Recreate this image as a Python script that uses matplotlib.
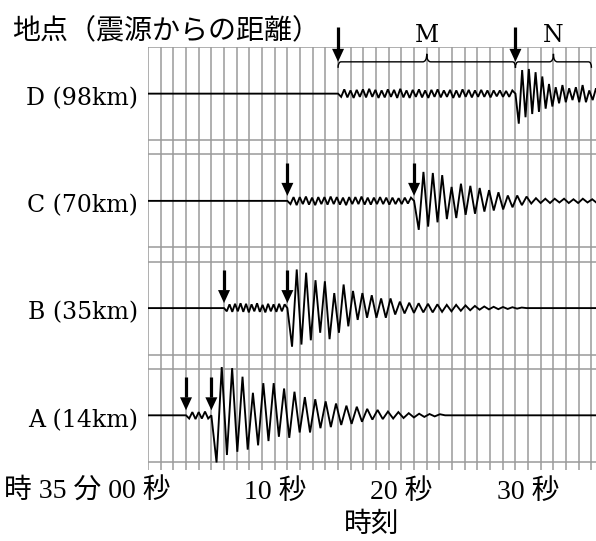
import numpy as np
import matplotlib
matplotlib.use("Agg")
import matplotlib.pyplot as plt
from matplotlib.path import Path
from matplotlib.patches import PathPatch
from matplotlib.transforms import offset_copy

# stations, bottom (A) to top (D)
stations = ["A", "B", "C", "D"]
distances_km = [14, 35, 70, 98]
p_arrival = [3, 6, 11, 15]     # seconds after 35 min 00 s
s_arrival = [5, 11, 21, 29]

# small P-phase wiggles, spread between the two arrivals
p_wiggle_a = [-0.03, 0.03, -0.035, 0.03, -0.03, 0.035, -0.03]
p_wiggle_b = [-0.03, 0.035, -0.035, 0.04, -0.03, 0.045, -0.035, 0.04, -0.04, 0.035, -0.03,
              0.045, -0.035, 0.03, -0.04, 0.04, -0.03, 0.035, -0.035, 0.04, -0.03, 0.035]
p_wiggle_c = [-0.03, 0.035, -0.04, 0.035, -0.03, 0.04, -0.035, 0.03,
              -0.04, 0.035, -0.03, 0.035, -0.035, 0.04, -0.03, 0.035,
              -0.035, 0.03, -0.04, 0.035, -0.03, 0.035, -0.03, 0.04,
              -0.035, 0.03, -0.035, 0.03, -0.03, 0.035, -0.03, 0.03,
              -0.035, 0.03, -0.03, 0.025, -0.03, 0.03, -0.025, 0.03]
p_wiggle_d = [-0.03, 0.04, -0.035, 0.03, -0.04, 0.035, -0.03, 0.04,
              -0.035, 0.045, -0.03, 0.035, -0.04, 0.03, -0.035, 0.04,
              -0.03, 0.035, -0.04, 0.045, -0.035, 0.03, -0.04, 0.035,
              -0.03, 0.04, -0.035, 0.03, -0.04, 0.035, -0.03, 0.04,
              -0.035, 0.03, -0.03, 0.035, -0.04, 0.03, -0.035, 0.04,
              -0.03, 0.035, -0.035, 0.03, -0.03, 0.035, -0.03, 0.03,
              -0.035, 0.03, -0.025, 0.03, -0.03, 0.025, -0.03, 0.03]

# S-phase swings (peaks and troughs), one every half period
s_half_period = [0.41, 0.37, 0.37, 0.265]
s_wiggle_a = [-0.44, 0.45, -0.37, 0.44, -0.34, 0.36, -0.32, 0.21, -0.28, 0.30, -0.24, 0.30,
              -0.20, 0.25, -0.21, 0.22, -0.16, 0.17, -0.16, 0.15, -0.12, 0.13, -0.11, 0.11,
              -0.09, 0.09, -0.08, 0.08, -0.06, 0.06, -0.04, 0.05, -0.035, 0.035, -0.03, 0.03,
              -0.025, 0.02, -0.02, 0.015, -0.015, 0.012, -0.01, 0.01]
s_wiggle_b = [-0.36, 0.36, -0.34, 0.33, -0.30, 0.26, -0.23, 0.25, -0.29, 0.14, -0.23, 0.22,
              -0.17, 0.16, -0.11, 0.14, -0.09, 0.12, -0.09, 0.09, -0.09, 0.09, -0.06, 0.06,
              -0.05, 0.05, -0.045, 0.045, -0.04, 0.04, -0.04, 0.035, -0.035, 0.03, -0.03, 0.03,
              -0.025, 0.025, -0.02, 0.02, -0.015, 0.015, -0.012, 0.012, -0.01, 0.01,
              -0.008, 0.008, -0.005, 0.005]
s_wiggle_c = [-0.27, 0.27, -0.24, 0.26, -0.20, 0.24, -0.17, 0.13, -0.16, 0.16, -0.13, 0.14,
              -0.12, 0.12, -0.10, 0.10, -0.09, 0.08, -0.08, 0.05, -0.06, 0.05, -0.04, 0.04,
              -0.025, 0.025, -0.02, 0.02, -0.02, 0.02, -0.015, 0.02, -0.02, 0.015, -0.02, 0.02,
              -0.015, 0.015, -0.02, 0.02]
s_wiggle_d = [-0.28, 0.22, -0.22, 0.23, -0.19, 0.20, -0.17, 0.16, -0.14, 0.09, -0.12, 0.06,
              -0.09, 0.08, -0.08, 0.05, -0.06, 0.06, -0.08, 0.08, -0.08, 0.03, -0.06, 0.05,
              -0.04, 0.04]

p_wiggles = [p_wiggle_a, p_wiggle_b, p_wiggle_c, p_wiggle_d]
s_wiggles = [s_wiggle_a, s_wiggle_b, s_wiggle_c, s_wiggle_d]

# braces over station D
phase_labels = ["M", "N"]
n_phase_end = 35

tick_secs = [0, 10, 20, 30]
tick_labels = ["時 35 分 00 秒", "10 秒", "20 秒", "30 秒"]

SERIF = ["DejaVu Serif", "Noto Sans CJK JP"]
TICKFONT = ["Liberation Serif", "Noto Sans CJK JP"]
CJK = ["Noto Sans CJK JP", "DejaVu Sans"]
plt.rcParams["font.family"] = TICKFONT

GRID = "#9a9a9a"
XMAX = 448 / 12.67
YMIN, YMAX = -0.51, 3.435
PX_X = XMAX / 448          # seconds per pixel
PX_Y = (YMAX - YMIN) / 423  # units per pixel
HALF = 46.5 * PX_Y


def build_trace(tp, ts, p_amp, s_amp, half):
    t = [0, tp]
    y = [0, 0]
    t += list(np.linspace(tp, ts, len(p_amp) + 2)[1:-1])
    y += list(p_amp)
    t.append(ts)
    y.append(0)
    for i, a in enumerate(s_amp):
        t.append(ts + half * (i + 1))
        y.append(a)
    end = ts + half * (len(s_amp) + 1)
    t += [end, max(end, XMAX) + 1]
    y += [0, 0]
    return np.array(t), np.array(y)


def down_arrow(ax, x, tip, length=33, head=13, hw=6):
    top = tip + length * PX_Y
    base = tip + head * PX_Y
    ax.plot([x, x], [top, base], color="k", lw=2.3, solid_capstyle="butt", clip_on=False, zorder=5)
    ax.fill([x - hw * PX_X, x + hw * PX_X, x], [base, base, tip], color="k", lw=0, clip_on=False, zorder=5)


def brace(ax, x0, x1, yl):
    de, dxe = 6 * PX_Y, 3 * PX_X
    dc, dxc = 8 * PX_Y, 4 * PX_X
    xc = (x0 + x1) / 2
    verts = [(x0, yl - de), (x0, yl), (x0 + dxe, yl),
             (xc - dxc, yl), (xc, yl), (xc, yl + dc),
             (xc, yl), (xc + dxc, yl),
             (x1 - dxe, yl), (x1, yl), (x1, yl - de)]
    codes = [Path.MOVETO, Path.CURVE3, Path.CURVE3,
             Path.LINETO, Path.CURVE3, Path.CURVE3,
             Path.CURVE3, Path.CURVE3,
             Path.LINETO, Path.CURVE3, Path.CURVE3]
    ax.add_patch(PathPatch(Path(verts, codes), fill=False, color="k", lw=1.0, clip_on=False, zorder=4))
    return xc


fig = plt.figure(figsize=(5.96, 5.41), dpi=100)
ax = fig.add_axes([148 / 596, 71 / 541, 448 / 596, 423 / 541])
ax.set_xlim(0, XMAX)
ax.set_ylim(YMIN, YMAX)
for sp in ax.spines.values():
    sp.set_visible(False)
ax.tick_params(axis="y", left=False, labelleft=False)
ax.tick_params(axis="x", length=0, pad=6.5, labelsize=20)

# recording paper grid
ax.vlines(np.arange(0, 36), YMIN, YMAX, color=GRID, lw=1.1, zorder=1)
for k in range(len(stations)):
    ax.hlines([k - HALF, k + HALF], 0, XMAX, color=GRID, lw=1.1, zorder=1)

for k, name in enumerate(stations):
    t, y = build_trace(p_arrival[k], s_arrival[k], p_wiggles[k], s_wiggles[k], s_half_period[k])
    ax.plot(t, k + y, color="k", lw=1.35, zorder=3, solid_joinstyle="miter")
    ax.text(-10 * PX_X, k - 11.5 * PX_Y, f"{name} ({distances_km[k]}km)", ha="right",
            va="baseline", fontsize=17, family=SERIF)

# arrows: above the trace for A-C, on the braces for D
top = len(stations) - 1
brace_y = top + 31.8 * PX_Y
for k in range(top):
    for ta in (p_arrival[k], s_arrival[k]):
        down_arrow(ax, ta, k + 5 * PX_Y)
for ta in (p_arrival[top], s_arrival[top]):
    down_arrow(ax, ta, brace_y, length=35)

spans = [(p_arrival[top], s_arrival[top]), (s_arrival[top], n_phase_end)]
for lab, (x0, x1) in zip(phase_labels, spans):
    xc = brace(ax, x0, x1, brace_y)
    ax.text(xc, top + 51.5 * PX_Y, lab, ha="center", va="baseline", fontsize=17,
            family=SERIF, clip_on=False)

ax.set_xticks(tick_secs[1:], tick_labels[1:])
ax.text(0, YMIN, tick_labels[0], ha="right", va="top", fontsize=20,
        transform=offset_copy(ax.transData, fig=fig, x=22, y=-8.5, units="dots"))
ax.set_xlabel("時刻", fontsize=20, family=CJK, labelpad=3)

fig.text(12 / 596, 1 - 38 / 541, "地点（震源からの距離）", fontsize=20.2, family=CJK,
         ha="left", va="baseline")

fig.savefig("out.png", dpi=100, facecolor="white")
